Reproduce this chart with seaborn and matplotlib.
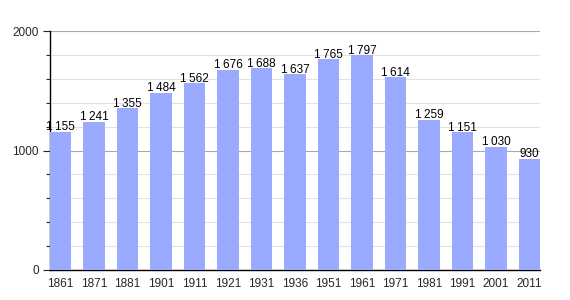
import matplotlib
matplotlib.use("Agg")
import matplotlib.pyplot as plt
import seaborn as sns
import pandas as pd
from matplotlib.ticker import MultipleLocator

years = ["1861", "1871", "1881", "1901", "1911", "1921", "1931", "1936", "1951", "1961", "1971", "1981", "1991", "2001", "2011"]
population = [1155, 1241, 1355, 1484, 1562, 1676, 1688, 1637, 1765, 1797, 1614, 1259, 1151, 1030, 930]

df = pd.DataFrame({"year": years, "pop": population})

sns.set_style("white")
plt.rcParams['font.family'] = ['Liberation Sans', 'DejaVu Sans']

fig = plt.figure(figsize=(5.7, 3.0), dpi=100)
ax = fig.add_axes([50/570, 30/300, 490/570, 239/300])

width = 0.63
sns.barplot(data=df, x="year", y="pop", color="#99aaff", saturation=1, width=width,
            linewidth=0, edgecolor="none", ax=ax, zorder=3)

ax.set_ylim(0, 2000)
ax.set_xlim(-width/2, len(years) - 1 + width/2)
ax.yaxis.set_major_locator(MultipleLocator(1000))
ax.yaxis.set_minor_locator(MultipleLocator(200))
ax.grid(which="minor", axis="y", color="#e2e2e2", linewidth=0.8, zorder=0)
ax.grid(which="major", axis="y", color="#aaaaaa", linewidth=0.8, zorder=0)
ax.set_axisbelow(True)

for s in ["top", "right"]:
    ax.spines[s].set_visible(False)
ax.spines["left"].set_color("black")
ax.spines["bottom"].set_color("black")
ax.spines["left"].set_linewidth(1)
ax.spines["bottom"].set_linewidth(1)

ax.tick_params(axis="y", which="major", left=True, length=5, width=0.8, labelsize=8.5, pad=3)
ax.tick_params(axis="y", which="minor", left=True, length=3, width=0.8)
ax.tick_params(axis="x", bottom=False, labelsize=8.5, pad=2)
ax.set_xlabel("")
ax.set_ylabel("")

for i, v in enumerate(population):
    s = f"{v:,}".replace(",", "\u202f")
    ax.text(i, v - 12, s, ha="center", va="bottom", fontsize=8.5, color="black", zorder=5)

fig.savefig("out.png", dpi=100)
